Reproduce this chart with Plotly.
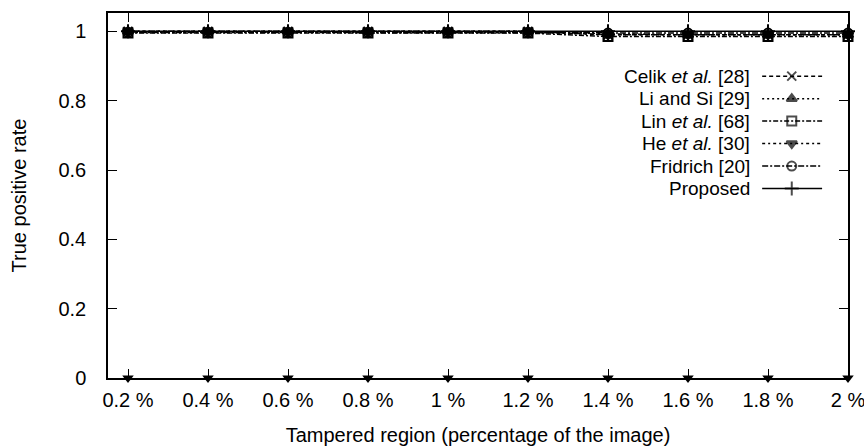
import plotly.graph_objects as go

categories = ["0.2 %", "0.4 %", "0.6 %", "0.8 %", "1 %", "1.2 %", "1.4 %", "1.6 %", "1.8 %", "2 %"]
celik = [1.0, 1.0, 1.0, 1.0, 1.0, 1.0, 0.99, 0.99, 0.99, 0.99]
li_si = [1.0, 1.0, 1.0, 1.0, 1.0, 1.0, 0.993, 0.99, 0.99, 0.99]
lin = [0.995, 0.995, 0.995, 0.995, 0.995, 0.995, 0.985, 0.985, 0.985, 0.985]
he = [0.998, 0.998, 0.998, 0.998, 0.998, 0.998, 0.99, 0.99, 0.99, 0.99]
fridrich = [0.997, 0.997, 0.997, 0.997, 0.997, 0.997, 0.995, 0.995, 0.995, 0.995]
proposed = [1.0] * 10
bottom_marks = [0.0] * 10

series_names = ["Celik <i>et al.</i> [28]", "Li and Si [29]", "Lin <i>et al.</i> [68]",
                "He <i>et al.</i> [30]", "Fridrich [20]", "Proposed"]
series_values = [celik, li_si, lin, he, fridrich, proposed]
dashes = ["4px,3px", "2px,3px", "5px,2px,2px,2px", "3px,3px,2px,3px", "6px,2px,2px,2px", "solid"]
symbols = ["x-thin-open", "triangle-up", "square-open", "triangle-down", "circle-open", "cross-thin-open"]
msizes = [9, 9, 9, 9, 9, 10]

FONT = "Liberation Sans, Arial, sans-serif"
xi = list(range(len(categories)))

fig = go.Figure()
for name, vals, d, s, ms in zip(series_names, series_values, dashes, symbols, msizes):
    fig.add_trace(go.Scatter(
        x=xi, y=vals, mode="lines+markers", name=name, showlegend=False,
        line=dict(color="black", width=1.5, dash=d),
        marker=dict(symbol=s, size=ms, color="black", line=dict(color="black", width=2)),
        cliponaxis=False))

fig.add_trace(go.Scatter(
    x=xi, y=bottom_marks, mode="markers", showlegend=False,
    marker=dict(symbol="triangle-down", size=10, color="black"),
    cliponaxis=False))

# legend (gnuplot style: text right-aligned, sample on the right)
leg_top = 0.827
leg_step = 0.0616
for i, (name, d, s, ms) in enumerate(zip(series_names, dashes, symbols, msizes)):
    yy = leg_top - i * leg_step
    fig.add_annotation(xref="paper", yref="paper", x=0.870, y=yy, text=name,
                       showarrow=False, xanchor="right", yanchor="middle",
                       font=dict(family=FONT, size=19, color="black"))
    fig.add_trace(go.Scatter(
        x=[0.884, 0.924, 0.965], y=[yy, yy, yy], xaxis="x2", yaxis="y2",
        mode="lines+markers", showlegend=False, hoverinfo="skip",
        line=dict(color="black", width=1.5, dash=d),
        marker=dict(symbol=s, size=[0, ms, 0], color="black", line=dict(color="black", width=2))))

fig.update_layout(
    width=864, height=447,
    margin=dict(l=108, r=16, t=13, b=69, autoexpand=False),
    paper_bgcolor="white", plot_bgcolor="white",
    font=dict(family=FONT, size=20, color="black"),
    xaxis=dict(
        range=[-0.25, 9.0], tickmode="array", tickvals=xi, ticktext=categories,
        showgrid=False, zeroline=False, showline=True, linecolor="black", linewidth=1.5,
        mirror="ticks", ticks="inside", ticklen=9, tickwidth=1.2, tickcolor="black",
        ticklabelstandoff=3, ticklabeloverflow="allow", automargin=False,
        title=dict(text="Tampered region (percentage of the image)", standoff=18,
                   font=dict(size=20)),
        tickfont=dict(size=20)),
    yaxis=dict(
        range=[0, 1.053], tickvals=[0, 0.2, 0.4, 0.6, 0.8, 1],
        ticktext=["0", "0.2", "0.4", "0.6", "0.8", "1"],
        showgrid=False, zeroline=False, showline=True, linecolor="black", linewidth=1.5,
        mirror="ticks", ticks="inside", ticklen=9, tickwidth=1.2, tickcolor="black",
        ticklabelstandoff=16, automargin=False,
        title=dict(text="True positive rate", standoff=26, font=dict(size=20)),
        tickfont=dict(size=20)),
    xaxis2=dict(overlaying="x", range=[0, 1], visible=False, fixedrange=True),
    yaxis2=dict(overlaying="y", range=[0, 1], visible=False, fixedrange=True),
)

fig.write_html("out.html", config={"displayModeBar": False},
               post_script="document.body.style.margin='0';document.body.style.overflow='hidden';")
